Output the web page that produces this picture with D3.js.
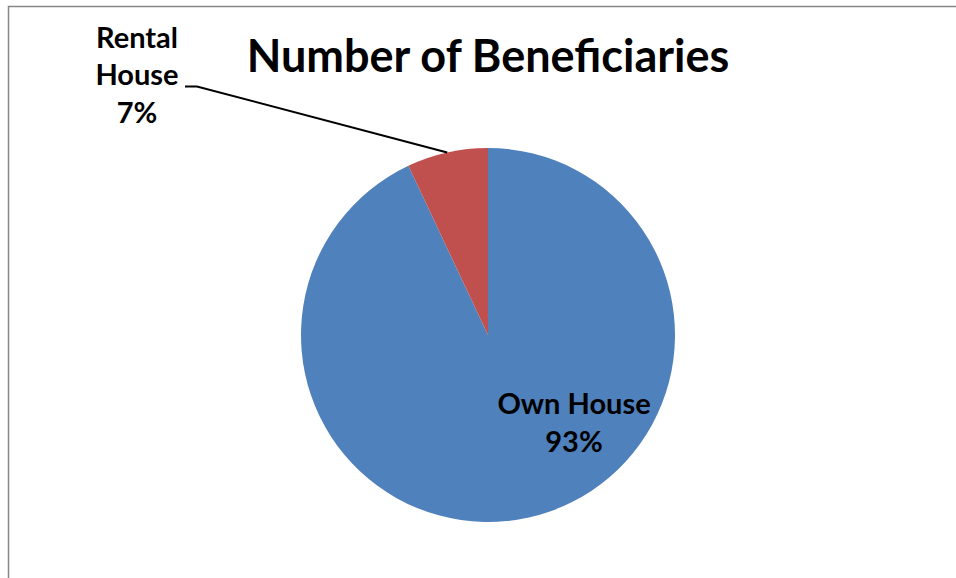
<!DOCTYPE html>
<html>
<head>
<meta charset="utf-8">
<script src="https://cdn.jsdelivr.net/npm/d3@7"></script>
<style>
  html, body { margin: 0; padding: 0; background: #fff; }
  svg { display: block; }
  text { font-family: Lato, "Open Sans", sans-serif; font-weight: bold; fill: #000; }
</style>
</head>
<body>
<svg id="chart" width="956" height="578"></svg>
<script>
// Housing type of beneficiaries (share, %)
const categories = ["Own House", "Rental House"];
const values = [93, 7];
const colors = ["#4F81BD", "#C0504D"];
const title = "Number of Beneficiaries";

const svg = d3.select("#chart");
const W = 956, H = 578;
const cx = 488, cy = 335, r = 187;

// chart frame
svg.append("rect")
  .attr("x", 8.5).attr("y", 6.5)
  .attr("width", W + 20).attr("height", H + 20)
  .attr("fill", "#fff").attr("stroke", "#878787").attr("stroke-width", 1.5);

svg.append("text")
  .attr("x", 488).attr("y", 72)
  .attr("text-anchor", "middle")
  .attr("font-size", 45)
  .text(title);

const data = categories.map((c, i) => ({ name: c, value: values[i], color: colors[i] }));

// slices run clockwise from 12 o'clock in category order
const arcsData = d3.pie().value(d => d.value).sort(null)(data);
const arc = d3.arc().innerRadius(0).outerRadius(r);

const g = svg.append("g").attr("transform", `translate(${cx},${cy})`);
g.selectAll("path")
  .data(arcsData)
  .join("path")
  .attr("d", arc)
  .attr("fill", d => d.data.color);

// Own House label inside the slice
const own = svg.append("text")
  .attr("text-anchor", "middle")
  .attr("font-size", 29);
own.append("tspan").attr("x", 574).attr("y", 414).text(categories[0]);
own.append("tspan").attr("x", 574).attr("y", 452).text(values[0] + "%");

// Rental House label outside with leader line
const rent = svg.append("text")
  .attr("text-anchor", "middle")
  .attr("font-size", 29);
rent.append("tspan").attr("x", 137).attr("y", 48).text("Rental");
rent.append("tspan").attr("x", 137).attr("y", 85).text("House");
rent.append("tspan").attr("x", 137).attr("y", 123).text(values[1] + "%");

// leader from label to the middle of the Rental slice edge
const mid = arcsData[1];
const ma = (mid.startAngle + mid.endAngle) / 2;
const ex = cx + r * Math.sin(ma), ey = cy - r * Math.cos(ma);
svg.append("path")
  .attr("d", `M185,86.5 L197,86.5 L${ex},${ey}`)
  .attr("fill", "none").attr("stroke", "#000").attr("stroke-width", 2);
</script>
</body>
</html>
